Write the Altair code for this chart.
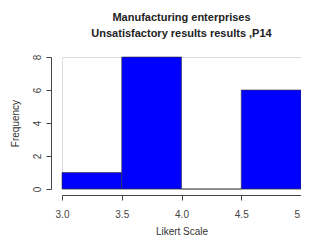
import altair as alt
import pandas as pd

bin_start = [3.0, 3.5, 4.0, 4.5]
bin_end = [3.5, 4.0, 4.5, 5.0]
frequency = [1, 8, 0, 6]
x_ticks = [3.0, 3.5, 4.0, 4.5, 5.0]
y_ticks = [0, 2, 4, 6, 8]
title_lines = ["Manufacturing enterprises", "Unsatisfactory results results ,P14"]

df = pd.DataFrame({"start": bin_start, "end": bin_end, "freq": frequency})

FONT = "Liberation Sans"

chart = alt.Chart(df).mark_bar(
    color="#0000FF", stroke="#333333", strokeWidth=0.6
).encode(
    x=alt.X("start:Q",
            scale=alt.Scale(domain=[3, 5], nice=False, zero=False),
            axis=alt.Axis(values=x_ticks, format=".1f", title="Likert Scale",
                          offset=6, grid=False, tickSize=5, domainColor="#444444",
                          tickColor="#444444", labelColor="#444444", labelFont=FONT,
                          labelFontSize=10, labelPadding=9, titleFont=FONT,
                          titleFontSize=10, titleFontWeight="normal", titleColor="#333333",
                          titlePadding=7, labelFlush=False)),
    x2="end:Q",
    y=alt.Y("freq:Q",
            scale=alt.Scale(domain=[0, 8], nice=False),
            axis=alt.Axis(values=y_ticks, title="Frequency", offset=11, grid=False,
                          tickSize=5, domainColor="#444444", tickColor="#444444",
                          labelColor="#444444", labelFont=FONT, labelFontSize=10,
                          labelAngle=270, labelAlign="center", labelBaseline="bottom",
                          labelPadding=4, titleFont=FONT, titleFontSize=10,
                          titleFontWeight="normal", titleColor="#333333",
                          titlePadding=12)),
    y2=alt.datum(0),
).properties(
    width=239,
    height=132,
    title=alt.TitleParams(text=title_lines, font=FONT, fontSize=11, fontWeight="bold",
                          color="#222222", anchor="middle", lineHeight=16, offset=15),
    autosize=alt.AutoSizeParams(type="none"),
    padding={"left": 54, "top": 49, "right": 0, "bottom": 48},
).configure_view(stroke=None).configure(background="white")

chart.save("out.html", embed_options={"renderer": "svg", "actions": False})
